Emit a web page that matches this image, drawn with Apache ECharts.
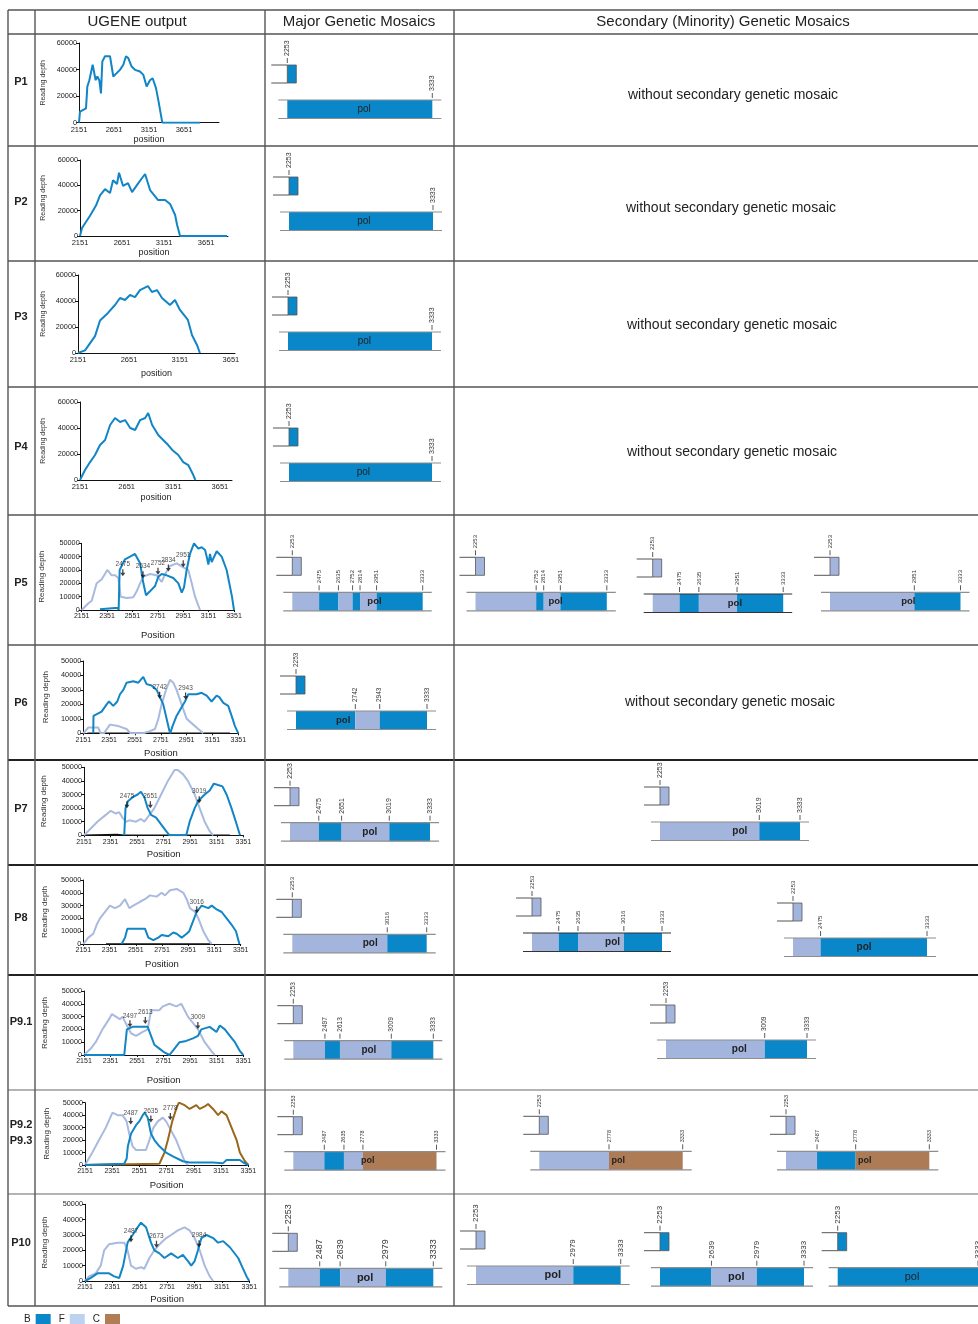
<!DOCTYPE html>
<html><head><meta charset="utf-8">
<script src="https://cdn.jsdelivr.net/npm/echarts@6/dist/echarts.min.js"></script>
<style>html,body{margin:0;padding:0;background:#fff}#c{width:978px;height:1324px}</style>
</head><body><div id="c"></div>
<script>
// ================= DATA =================
const headers = ['UGENE output', 'Major Genetic Mosaics', 'Secondary (Minority) Genetic Mosaics'];
const rowNames = ['P1', 'P2', 'P3', 'P4', 'P5', 'P6', 'P7', 'P8', 'P9.1', 'P9.2\nP9.3', 'P10'];
const noSecondaryText = 'without secondary genetic mosaic';
const subtypes = ['B', 'F', 'C'];
const ticksWide = [2151, 2651, 3151, 3651];
const ticksNarrow = [2151, 2351, 2551, 2751, 2951, 3151, 3351];
const depthTicksWide = [0, 20000, 40000, 60000];
const depthTicksNarrow = [0, 10000, 20000, 30000, 40000, 50000];

// reading depth curves: [position, depth]
const p1B = [[2151,0],[2165,8300],[2251,10800],[2270,27200],[2299,32000],[2346,43600],[2389,32000],[2413,34800],[2441,32000],[2465,22000],[2484,46000],[2522,50000],[2594,50000],[2617,48600],[2641,34800],[2689,37300],[2736,39800],[2784,43600],[2822,50000],[2855,48600],[2903,42300],[2951,39800],[3022,38500],[3070,36000],[3117,27200],[3165,32000],[3203,33500],[3251,26000],[3284,17000],[3341,0],[3879,0]];
const p2B = [[2151,0],[2175,6300],[2270,16000],[2341,24000],[2389,32000],[2449,37000],[2508,34000],[2544,44000],[2591,41000],[2615,50000],[2663,39500],[2722,41800],[2770,34700],[2830,40300],[2889,45800],[2925,48900],[2984,36300],[3080,28400],[3163,28400],[3222,25300],[3282,16600],[3306,8700],[3341,0],[3900,0]];
const p3B = [[2151,0],[2220,2000],[2318,13000],[2367,25000],[2445,30800],[2514,36900],[2563,42300],[2612,40800],[2661,44600],[2710,43000],[2759,48400],[2837,51500],[2876,46900],[2926,48400],[2975,42300],[3053,36900],[3102,40800],[3151,33100],[3229,25400],[3269,13800],[3318,6200],[3347,0]];
const p4B = [[2151,0],[2205,7700],[2259,13800],[2312,19200],[2366,26900],[2420,30800],[2474,42300],[2527,47700],[2581,44600],[2635,46100],[2689,40000],[2742,38500],[2796,46100],[2850,47700],[2882,51500],[2925,42300],[2990,34600],[3043,30800],[3097,26900],[3140,23100],[3205,19200],[3258,13800],[3312,11500],[3366,3800],[3388,0]];

const p5F = [[2151,0],[2204,5000],[2230,7000],[2269,20000],[2309,23000],[2353,30000],[2366,31000],[2387,26000],[2414,26000],[2440,24000],[2458,10000],[2506,9000],[2558,9500],[2584,14000],[2611,20000],[2637,25000],[2689,27000],[2742,26000],[2781,21000],[2808,27000],[2847,33000],[2899,35000],[2952,32000],[2991,30000],[3018,20000],[3044,10000],[3083,0]];
const p5B = [[2295,500],[2414,1500],[2435,1500],[2442,0],[2450,30000],[2492,38000],[2532,40000],[2571,42000],[2611,35000],[2637,20000],[2658,11000],[2689,14000],[2729,18000],[2755,25000],[2781,27000],[2821,26000],[2873,24000],[2913,20000],[2939,13000],[2957,17000],[2978,30000],[3004,42000],[3036,50000],[3070,46000],[3096,47000],[3123,45000],[3136,40000],[3149,34000],[3162,42000],[3175,36000],[3215,44000],[3254,40000],[3293,30000],[3314,20000],[3335,10000],[3351,0]];
const p5Marks = [[2475,25750],[2634,24250],[2752,26750],[2834,29250],[2951,32500]];

const p6F = [[2151,0],[2190,4000],[2267,4000],[2285,0],[2311,0],[2357,6000],[2422,5000],[2486,3000],[2517,0],[2615,0],[2667,1500],[2706,3000],[2732,10000],[2757,20000],[2791,30000],[2822,37000],[2848,35000],[2873,30000],[2912,20000],[2951,10000],[3002,6000],[3041,3000],[3080,0]];
const p6B = [[2228,0],[2230,12000],[2293,15000],[2332,20000],[2350,22000],[2383,19000],[2414,22000],[2435,27000],[2461,30000],[2486,35000],[2538,36000],[2577,35000],[2615,39000],[2641,34000],[2680,33000],[2719,30000],[2744,25000],[2770,20000],[2796,10000],[2817,2000],[2824,0],[2842,5000],[2873,12000],[2912,18000],[2938,22000],[2964,27000],[3028,27000],[3067,28000],[3106,26000],[3144,22000],[3183,26000],[3204,25000],[3235,21000],[3273,19000],[3307,10000],[3325,5000],[3351,0]];
const p6K = [[2182,0],[3286,0]];
const p6Marks = [[2742,24200],[2943,23700]];

const p7F = [[2151,0],[2202,5000],[2252,10000],[2315,15000],[2353,18000],[2391,16000],[2416,17000],[2441,13000],[2467,10000],[2492,11000],[2543,10000],[2580,12000],[2606,10000],[2644,15000],[2681,20000],[2732,30000],[2783,40000],[2833,48000],[2858,48000],[2896,45000],[2934,40000],[2985,30000],[3022,20000],[3060,10000],[3098,3000],[3124,0]];
const p7B = [[2454,0],[2464,20000],[2482,25000],[2517,28000],[2555,30000],[2580,32000],[2606,28000],[2631,20000],[2656,15000],[2694,13000],[2732,8000],[2770,3000],[2795,0],[2921,0],[2947,10000],[2985,20000],[3010,25000],[3060,30000],[3098,33000],[3129,38000],[3161,37000],[3194,36000],[3225,30000],[3262,20000],[3295,10000],[3326,0]];
const p7K = [[2151,0],[2400,600],[2450,0],[3250,0]];
const p7Marks = [[2475,20300],[2651,20300],[3019,24000]];

const p8F = [[2151,0],[2189,5000],[2227,8000],[2253,15000],[2278,20000],[2354,30000],[2392,28000],[2431,30000],[2469,35000],[2502,28000],[2532,30000],[2583,33000],[2621,35000],[2659,38000],[2710,37000],[2748,40000],[2774,38000],[2812,42000],[2863,43000],[2914,40000],[2939,35000],[2964,28000],[3003,25000],[3028,20000],[3066,10000],[3104,3000],[3130,0]];
const p8B = [[2443,0],[2469,5000],[2487,12000],[2621,12000],[2647,5000],[2685,3000],[2723,5000],[2748,7000],[2799,6000],[2837,9000],[2863,8000],[2901,5000],[2939,8000],[2959,10000],[2977,15000],[3015,25000],[3053,30000],[3104,28000],[3130,30000],[3168,27000],[3206,25000],[3244,20000],[3282,15000],[3315,10000],[3341,0]];
const p8K = [[2324,0],[3117,0]];
const p8Marks = [[3016,24400]];

const p91F = [[2151,0],[2202,5000],[2239,10000],[2290,20000],[2340,28000],[2361,32000],[2391,30000],[2421,28000],[2441,30000],[2479,22000],[2505,17000],[2543,15000],[2593,18000],[2631,20000],[2656,35000],[2719,35000],[2745,38000],[2795,40000],[2846,38000],[2884,40000],[2909,35000],[2934,30000],[2972,25000],[3010,20000],[3035,15000],[3060,10000],[3111,3000],[3136,0]];
const p91B = [[2151,0],[2454,0],[2474,20000],[2517,22000],[2631,22000],[2656,15000],[2681,8000],[2719,5000],[2757,2000],[2795,0],[2833,5000],[2871,10000],[2921,11000],[2972,13000],[3010,15000],[3035,20000],[3098,22000],[3149,18000],[3174,23000],[3212,20000],[3250,15000],[3288,10000],[3326,3000],[3351,0]];
const p91Marks = [[2497,22100],[2613,24700],[3009,20800]];

const p92F = [[2151,0],[2205,10000],[2254,20000],[2304,30000],[2353,42000],[2390,40000],[2427,40000],[2457,35000],[2476,25000],[2501,15000],[2526,12000],[2599,12000],[2624,20000],[2654,30000],[2686,35000],[2723,38000],[2747,35000],[2772,30000],[2821,20000],[2858,10000],[2883,3000],[2907,0]];
const p92B = [[2151,0],[2439,1000],[2457,5000],[2466,15000],[2489,25000],[2526,32000],[2550,35000],[2575,40000],[2590,42000],[2612,38000],[2636,25000],[2661,20000],[2698,15000],[2747,10000],[2797,7000],[2870,3000],[2920,2000],[3092,2000],[3166,1500],[3191,4000],[3289,4000],[3314,2000],[3351,0]];
const p92C = [[2151,0],[2698,1000],[2735,10000],[2760,20000],[2792,35000],[2821,45000],[2841,50000],[2883,48000],[2920,45000],[2969,48000],[2994,45000],[3031,47000],[3055,49000],[3092,45000],[3129,40000],[3154,43000],[3191,40000],[3228,30000],[3265,20000],[3289,10000],[3326,3000],[3351,0]];
const p92Marks = [[2487,33000],[2635,34500],[2778,36500]];

const p10F = [[2151,0],[2180,3000],[2229,5000],[2266,10000],[2291,20000],[2327,24000],[2389,25000],[2438,25000],[2462,20000],[2487,10000],[2523,8000],[2560,9000],[2584,8000],[2621,15000],[2658,20000],[2707,25000],[2744,28000],[2780,30000],[2829,33000],[2878,35000],[2915,33000],[2952,28000],[2989,20000],[3025,10000],[3062,3000],[3087,0]];
const p10B = [[2151,0],[2193,2000],[2242,5000],[2327,5000],[2364,3000],[2401,2000],[2430,10000],[2462,25000],[2499,30000],[2535,35000],[2560,38000],[2597,35000],[2633,25000],[2658,20000],[2695,18000],[2731,15000],[2780,18000],[2829,15000],[2866,17000],[2903,13000],[2927,10000],[2952,13000],[2976,20000],[3001,28000],[3038,30000],[3087,28000],[3123,25000],[3160,26000],[3209,22000],[3270,15000],[3295,10000],[3331,3000],[3351,0]];
const p10Marks = [[2487,25600],[2673,22000],[2984,22400]];

// genetic mosaics: segments [start, end, subtype], box = subtype of the small 2253 block
const mP1 = {box:'B', segs:[[2253,3333,'B']]};
const mP2 = {box:'B', segs:[[2253,3333,'B']]};
const mP3 = {box:'B', segs:[[2253,3333,'B']]};
const mP4 = {box:'B', segs:[[2253,3333,'B']]};
const mP5 = {box:'F', segs:[[2253,2475,'F'],[2475,2635,'B'],[2635,2752,'F'],[2752,2814,'B'],[2814,2951,'F'],[2951,3333,'B']]};
const sP5a = {box:'F', segs:[[2253,2752,'F'],[2752,2814,'B'],[2814,2951,'F'],[2951,3333,'B']]};
const sP5b = {box:'F', segs:[[2253,2475,'F'],[2475,2635,'B'],[2635,2951,'F'],[2951,3333,'B']]};
const sP5c = {box:'F', segs:[[2253,2951,'F'],[2951,3333,'B']]};
const mP6 = {box:'B', segs:[[2253,2742,'B'],[2742,2943,'F'],[2943,3333,'B']]};
const mP7 = {box:'F', segs:[[2253,2475,'F'],[2475,2651,'B'],[2651,3019,'F'],[3019,3333,'B']]};
const sP7 = {box:'F', segs:[[2253,3019,'F'],[3019,3333,'B']]};
const mP8 = {box:'F', segs:[[2253,3016,'F'],[3016,3333,'B']]};
const sP8a = {box:'F', segs:[[2253,2475,'F'],[2475,2635,'B'],[2635,3016,'F'],[3016,3333,'B']]};
const sP8b = {box:'F', segs:[[2253,2475,'F'],[2475,3333,'B']]};
const mP91 = {box:'F', segs:[[2253,2497,'F'],[2497,2613,'B'],[2613,3009,'F'],[3009,3333,'B']]};
const sP91 = {box:'F', segs:[[2253,3009,'F'],[3009,3333,'B']]};
const mP92 = {box:'F', segs:[[2253,2487,'F'],[2487,2635,'B'],[2635,2778,'F'],[2778,3333,'C']]};
const sP92a = {box:'F', segs:[[2253,2778,'F'],[2778,3333,'C']]};
const sP92b = {box:'F', segs:[[2253,2487,'F'],[2487,2778,'B'],[2778,3333,'C']]};
const mP10 = {box:'F', segs:[[2253,2487,'F'],[2487,2639,'B'],[2639,2979,'F'],[2979,3333,'B']]};
const sP10a = {box:'F', segs:[[2253,2979,'F'],[2979,3333,'B']]};
const sP10b = {box:'B', segs:[[2253,2639,'B'],[2639,2979,'F'],[2979,3333,'B']]};
const sP10c = {box:'B', segs:[[2253,3333,'B']]};

// ================= STYLE / LAYOUT =================
const FONT = 'Liberation Sans, Arial, Helvetica, sans-serif';
const BAR = {B:'#0a87c9', F:'#a3b5dd', C:'#ad7b55'};
const LINE = {B:'#1185c6', F:'#a9badf', C:'#9a661c', K:'#111111'};
const LEGEND_COL = {B:'#0a87c9', F:'#bcd2f0', C:'#b07d55'};
const rowY = [10, 34, 146, 261, 387, 515, 645, 760, 865, 975, 1090, 1194, 1306];
const colX = [8, 35, 265, 454];
const rowLabelY = [82, 202, 317, 447, 583, 703, 809, 918, 1022, 1133, 1243];
const noSecRows = [[733,95],[731,208],[732,325],[732,452],[730,702]];

const depthCharts = [
  {kind:'A', lines:[['B',p1B]], marks:[], g:{left:79,top:43,width:140,height:79.7}, xmax:4151, ng:12, yg:32},
  {kind:'A', lines:[['B',p2B]], marks:[], g:{left:80,top:160,width:148,height:76}, xmax:3911, ng:12, yg:33},
  {kind:'A', lines:[['B',p3B]], marks:[], g:{left:78,top:275,width:157,height:78}, xmax:3691, ng:16, yg:31},
  {kind:'A', lines:[['B',p4B]], marks:[], g:{left:80,top:402,width:152,height:78}, xmax:3781, ng:13, yg:33},
  {kind:'N', lines:[['F',p5F],['B',p5B]], marks:p5Marks, g:{left:81.7,top:543.3,width:152.3,height:66.7}, ng:20, yg:36},
  {kind:'N', lines:[['K',p6K],['F',p6F],['B',p6B]], marks:p6Marks, g:{left:83.3,top:661,width:155,height:72.3}, ng:15, yg:34},
  {kind:'N', lines:[['K',p7K],['F',p7F],['B',p7B]], marks:p7Marks, g:{left:84,top:767.3,width:159.3,height:68}, ng:14, yg:36},
  {kind:'N', lines:[['K',p8K],['F',p8F],['B',p8B]], marks:p8Marks, g:{left:83.3,top:880,width:157.4,height:64}, ng:15, yg:35},
  {kind:'N', lines:[['F',p91F],['B',p91B]], marks:p91Marks, g:{left:84,top:991,width:159.3,height:64}, ng:20, yg:35},
  {kind:'N', lines:[['F',p92F],['B',p92B],['C',p92C]], marks:p92Marks, g:{left:85,top:1102.7,width:163.3,height:62.3}, ng:15, yg:34},
  {kind:'N', lines:[['F',p10F],['B',p10B]], marks:p10Marks, g:{left:85,top:1204.3,width:164.3,height:76.7}, ng:13, yg:36}
];

const diagrams = [
  {d:mP1, left:287.3, right:432.3, top:100, pol:0.53, fs:7, pf:10, bold:false},
  {d:mP2, left:289, right:433, top:212, pol:0.52, fs:7, pf:10, bold:false},
  {d:mP3, left:288, right:432, top:332, pol:0.53, fs:7, pf:10, bold:false},
  {d:mP4, left:289, right:432, top:463, pol:0.52, fs:7, pf:10, bold:false},
  {d:mP5, left:292.3, right:422.7, top:592.3, pol:0.63, fs:6, pf:9.5, bold:true},
  {d:sP5a, left:475.5, right:606.8, top:592.3, pol:0.61, fs:6, pf:9.5, bold:true},
  {d:sP5b, left:652.7, right:783.2, top:594, pol:0.63, fs:6, pf:9.5, bold:true, frame:'#333'},
  {d:sP5c, left:830, right:960.5, top:592.3, pol:0.6, fs:6, pf:9.5, bold:true},
  {d:mP6, left:296, right:427, top:711, pol:0.36, fs:6.5, pf:9.5, bold:true},
  {d:mP7, left:290, right:430, top:822.7, pol:0.57, fs:7, pf:10, bold:true},
  {d:sP7, left:660, right:800, top:822, pol:0.57, fs:7, pf:10, bold:true},
  {d:mP8, left:292.3, right:426.7, top:934.3, pol:0.58, fs:6, pf:10, bold:true},
  {d:sP8a, left:532, right:662, top:933, pol:0.62, fs:6, pf:10, bold:true, frame:'#333'},
  {d:sP8b, left:793, right:927, top:938, pol:0.53, fs:6, pf:10, bold:true},
  {d:mP91, left:293.3, right:433.3, top:1040.7, pol:0.54, fs:6.5, pf:10, bold:true},
  {d:sP91, left:666, right:807, top:1040, pol:0.52, fs:6.5, pf:10, bold:true},
  {d:mP92, left:293.3, right:436.5, top:1151.7, pol:0.52, fs:5.5, pf:9, bold:true},
  {d:sP92a, left:539.3, right:682.7, top:1151.3, pol:0.55, fs:5.5, pf:9, bold:true},
  {d:sP92b, left:786, right:929.3, top:1151.3, pol:0.55, fs:5.5, pf:9, bold:true},
  {d:mP10, left:288.3, right:433.3, top:1268.3, pol:0.53, fs:9, pf:11, bold:true},
  {d:sP10a, left:476, right:620.7, top:1266, pol:0.53, fs:8, pf:11, bold:true},
  {d:sP10b, left:660, right:804, top:1267.7, pol:0.53, fs:8, pf:11, bold:true},
  {d:sP10c, left:837.7, right:980, top:1267.7, pol:0.53, fs:8, pf:11, bold:false}
];

// ================= BUILD =================
const grids = [], xAxes = [], yAxes = [], series = [];
const ARROW = 'path://M3,0 H5 V5 H8 L4,10 L0,5 H3 Z';

depthCharts.forEach((c) => {
  const gi = grids.length;
  const wide = c.kind === 'A';
  const x0 = wide ? ticksWide[0] : ticksNarrow[0];
  const xmax = wide ? c.xmax : ticksNarrow[ticksNarrow.length - 1];
  const tickList = wide ? ticksWide : ticksNarrow;
  const yt = wide ? depthTicksWide : depthTicksNarrow;
  grids.push(Object.assign({containLabel:false}, c.g));
  xAxes.push({
    gridIndex: gi, type: 'value', min: 0, max: xmax - x0, interval: tickList[1] - tickList[0],
    axisLine: {show: true, lineStyle: {color: '#111', width: 1}},
    axisTick: {show: !wide, length: 2, lineStyle: {color: '#111'}},
    splitLine: {show: false},
    axisLabel: {fontSize: wide ? 7.5 : 7, color: '#222', margin: 3, fontFamily: FONT,
      formatter: v => tickList.includes(v + x0) ? String(v + x0) : ''},
    name: wide ? 'position' : 'Position', nameLocation: 'middle', nameGap: c.ng,
    nameTextStyle: {fontSize: wide ? 9 : 9.5, color: '#222', fontFamily: FONT}
  });
  yAxes.push({
    gridIndex: gi, type: 'value', min: yt[0], max: yt[yt.length - 1], interval: yt[1] - yt[0],
    axisLine: {show: true, lineStyle: {color: '#111', width: 1}},
    axisTick: {show: true, length: 3, lineStyle: {color: '#111'}},
    splitLine: {show: false},
    axisLabel: {fontSize: 7.3, color: '#222', margin: 2, fontFamily: FONT, formatter: v => String(v)},
    name: 'Reading depth', nameLocation: 'middle', nameGap: c.yg,
    nameTextStyle: {fontSize: wide ? 7 : 8, color: '#333', fontFamily: FONT}
  });
  c.lines.forEach(([t, arr]) => {
    series.push({
      type: 'line', name: t === 'K' ? 'other' : t, xAxisIndex: gi, yAxisIndex: gi,
      data: arr.map(p => [p[0] - x0, p[1]]), showSymbol: false, symbol: 'none',
      lineStyle: {color: LINE[t], width: t === 'K' ? 1.6 : 2}, itemStyle: {color: LINE[t]},
      silent: true, z: t === 'B' ? 3 : 2
    });
  });
  if (c.marks.length) {
    series.push({
      type: 'scatter', xAxisIndex: gi, yAxisIndex: gi, silent: true, z: 5,
      data: c.marks.map(m => [m[0] - x0, m[1], m[0]]),
      symbol: ARROW, symbolSize: [5, 7], symbolOffset: [0, -3],
      itemStyle: {color: '#111'},
      label: {show: true, position: 'top', distance: 1, fontSize: 6.5, color: '#222', fontFamily: FONT,
        formatter: p => String(p.data[2])}
    });
  }
});

function tickEl(x, top, val, fs) {
  return [
    {type: 'line', shape: {x1: x, y1: top - 7, x2: x, y2: top - 2}, style: {stroke: '#333', lineWidth: 0.8}, z2: 5},
    {type: 'text', x: x, y: top - 9, rotation: Math.PI / 2,
      style: {text: String(val), fontSize: fs, fill: '#333', align: 'left', verticalAlign: 'middle', fontFamily: FONT}, z2: 5}
  ];
}

diagrams.forEach((L) => {
  const gi = grids.length;
  const segs = L.d.segs;
  const s0 = segs[0][0], s1 = segs[segs.length - 1][1];
  grids.push({left: L.left, top: L.top, width: L.right - L.left, height: 18.5, containLabel: false});
  xAxes.push({gridIndex: gi, type: 'value', min: s0, max: s1, show: false});
  yAxes.push({gridIndex: gi, type: 'value', min: 0, max: 1, show: false});
  series.push({
    type: 'custom', coordinateSystem: 'cartesian2d', xAxisIndex: gi, yAxisIndex: gi,
    clip: false, silent: true, z: 4,
    data: segs.map(s => [s[0], s[1]]),
    renderItem: (params, api) => {
      const i = params.dataIndex, s = segs[i];
      const a = api.coord([s[0], 1]), b = api.coord([s[1], 0]);
      const top = a[1], bot = b[1];
      const kids = [
        {type: 'rect', shape: {x: a[0], y: top, width: b[0] - a[0], height: bot - top}, style: {fill: BAR[s[2]]}, z2: 1}
      ].concat(tickEl(b[0], top, s[1], L.fs));
      if (i === 0) {
        const end = api.coord([s1, 0])[0];
        const fc = L.frame || '#8e8e8e';
        kids.push({type: 'line', shape: {x1: a[0] - 9, y1: top, x2: end + 9, y2: top}, style: {stroke: fc, lineWidth: 1.2}, z2: 3});
        kids.push({type: 'line', shape: {x1: a[0] - 9, y1: bot, x2: end + 9, y2: bot}, style: {stroke: fc, lineWidth: 1.2}, z2: 3});
        const bt = top - 35, bb = top - 17;
        kids.push({type: 'line', shape: {x1: a[0] - 16, y1: bt, x2: a[0], y2: bt}, style: {stroke: '#555', lineWidth: 1}, z2: 3});
        kids.push({type: 'line', shape: {x1: a[0] - 16, y1: bb, x2: a[0], y2: bb}, style: {stroke: '#555', lineWidth: 1}, z2: 3});
        kids.push({type: 'rect', shape: {x: a[0], y: bt, width: 9, height: bb - bt}, style: {fill: BAR[L.d.box], stroke: '#555', lineWidth: 0.8}, z2: 2});
        kids.push(...tickEl(a[0], bt, s0, L.fs));
        const px = a[0] + (end - a[0]) * L.pol;
        kids.push({type: 'text', x: px, y: (top + bot) / 2,
          style: {text: 'pol', fontSize: L.pf, fontWeight: L.bold ? 'bold' : 'normal', fill: '#222',
            align: 'center', verticalAlign: 'middle', fontFamily: FONT}, z2: 10});
      }
      return {type: 'group', children: kids};
    }
  });
});

// table & texts
const gfx = [];
rowY.forEach((y, i) => {
  const dark = (i === 7 || i === 8 || i === 9);
  const light = (i === 10 || i === 11);
  gfx.push({type: 'line', shape: {x1: 8, y1: y, x2: 978, y2: y},
    style: {stroke: light ? '#9a9a9a' : (dark ? '#222' : '#555'), lineWidth: dark ? 2 : 1.4}, silent: true});
});
colX.forEach((x) => {
  gfx.push({type: 'line', shape: {x1: x, y1: rowY[0], x2: x, y2: rowY[rowY.length - 1]},
    style: {stroke: '#555', lineWidth: 1.4}, silent: true});
});
const headerX = [137, 359, 723];
headers.forEach((h, i) => {
  gfx.push({type: 'text', x: headerX[i], y: 22, silent: true,
    style: {text: h, fontSize: 15, fill: '#222', align: 'center', verticalAlign: 'middle', fontFamily: FONT}});
});
rowNames.forEach((r, i) => {
  gfx.push({type: 'text', x: 21, y: rowLabelY[i], silent: true,
    style: {text: r, fontSize: 11, fontWeight: 'bold', fill: '#222', align: 'center', verticalAlign: 'middle',
      lineHeight: 16, fontFamily: FONT}});
});
noSecRows.forEach(([x, y]) => {
  gfx.push({type: 'text', x: x, y: y, silent: true,
    style: {text: noSecondaryText, fontSize: 14, fill: '#222', align: 'center', verticalAlign: 'middle', fontFamily: FONT}});
});

const option = {
  animation: false,
  backgroundColor: '#fff',
  grid: grids, xAxis: xAxes, yAxis: yAxes, series: series,
  legend: {
    left: 19, top: 1309, orient: 'horizontal', align: 'right', itemGap: 8, itemWidth: 15, itemHeight: 10,
    icon: 'rect', selectedMode: false,
    textStyle: {fontSize: 10, color: '#222', fontFamily: FONT, padding: [0, 0, 0, 0]},
    data: subtypes.map(t => ({name: t, itemStyle: {color: LEGEND_COL[t]}, icon: 'rect'}))
  },
  graphic: {elements: gfx}
};
const chart = echarts.init(document.getElementById('c'), null, {renderer: 'canvas'});
chart.setOption(option);
</script>
</body></html>
